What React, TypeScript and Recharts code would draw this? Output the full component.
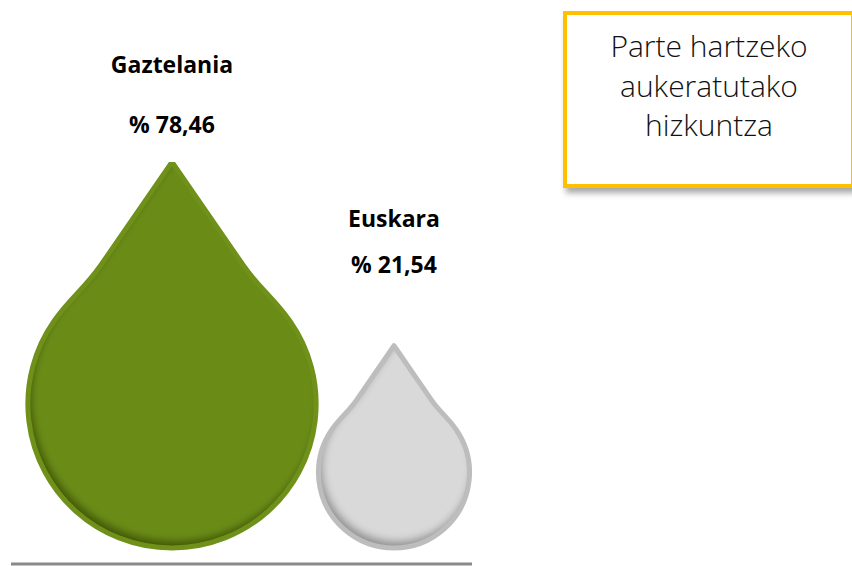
import React from "react";
import { BarChart, Bar, XAxis, YAxis, LabelList } from "recharts";

const CATEGORIES = ["Gaztelania", "Euskara"];
const PERCENTAGES = [78.46, 21.54];
const TITLE_LINES = ["Parte hartzeko", "aukeratutako", "hizkuntza"];

const data = CATEGORIES.map((name, i) => ({ name, value: PERCENTAGES[i] }));

// droplet area ~ value, so the height follows a sqrt scale
const Y_MIN = -0.135;

const DROP_STYLES = [
  { fill: "#6B8C15", ring: "#6F9119", shadow: "#3E5307" },
  { fill: "#D9D9D9", ring: "#BDBDBD", shadow: "#8E8E8E" },
];

// distance from the droplet tip up to the label baselines
const LABEL_GAPS = [
  { name: 89, value: 29 },
  { name: 119, value: 73 },
];

const formatPct = (v: number) => `% ${v.toFixed(2).replace(".", ",")}`;

// tip sits 1.678 r above the circle centre; straight flank, then a soft shoulder
function dropPath(cx: number, top: number, bottom: number) {
  const h = bottom - top;
  const r = h / 2.678;
  const cy = bottom - r;
  const dir = { x: 0.573, y: 0.819 };
  const qy = 0.72 * r;
  const qx = 0.69 * qy;
  const a = (55 * Math.PI) / 180;
  const px = r * Math.sin(a);
  const py = cy - r * Math.cos(a);
  const hl = 0.2 * r;
  const c1x = qx + dir.x * hl;
  const c1y = top + qy + dir.y * hl;
  const c2x = px - Math.cos(a) * hl;
  const c2y = py - Math.sin(a) * hl;
  return [
    `M ${cx} ${top}`,
    `L ${cx + qx} ${top + qy}`,
    `C ${cx + c1x} ${c1y} ${cx + c2x} ${c2y} ${cx + px} ${py}`,
    `A ${r} ${r} 0 1 1 ${cx - px} ${py}`,
    `C ${cx - c2x} ${c2y} ${cx - c1x} ${c1y} ${cx - qx} ${top + qy}`,
    "Z",
  ].join(" ");
}

function Drop(props: any) {
  const { x, y, width, height, index } = props;
  if (!height || height <= 0) return null;
  const cx = x + width / 2;
  const d = dropPath(cx, y, y + height);
  const st = DROP_STYLES[index % DROP_STYLES.length];
  const clipId = `drop-clip-${index}`;
  const blurId = `drop-blur-${index}`;
  return (
    <g>
      <defs>
        <clipPath id={clipId}>
          <path d={d} />
        </clipPath>
        <filter id={blurId} x="-20%" y="-20%" width="140%" height="140%">
          <feGaussianBlur stdDeviation={4} />
        </filter>
      </defs>
      <g clipPath={`url(#${clipId})`}>
        <path d={d} fill={st.shadow} />
        <path d={d} fill={st.fill} transform="translate(3,-6)" filter={`url(#${blurId})`} />
      </g>
      <path d={d} fill="none" stroke={st.ring} strokeWidth={5} strokeLinejoin="round" />
    </g>
  );
}

function DropLabel(props: any) {
  const vb = props.viewBox ?? props;
  const { index, value } = props;
  const cx = vb.x + vb.width / 2;
  const gap = LABEL_GAPS[index] ?? LABEL_GAPS[0];
  const style = { fontFamily: "'Open Sans'", fontWeight: 700, fontSize: 23, fill: "#000" };
  return (
    <g>
      <text x={cx} y={vb.y - gap.name} textAnchor="middle" {...style}>
        {CATEGORIES[index]}
      </text>
      <text x={cx} y={vb.y - gap.value} textAnchor="middle" {...style}>
        {formatPct(Number(value))}
      </text>
    </g>
  );
}

export default function App() {
  return (
    <div
      style={{
        position: "absolute",
        left: 0,
        top: 0,
        width: 852,
        height: 566,
        overflow: "hidden",
        background: "#fff",
        fontFamily: "'Open Sans', sans-serif",
      }}
    >
      <BarChart
        width={852}
        height={566}
        data={data}
        margin={{ top: 162, right: 380, bottom: 0, left: 11 }}
      >
        <XAxis
          dataKey="name"
          type="category"
          scale="point"
          padding={{ left: 161, right: 78 }}
          tick={false}
          tickLine={false}
          axisLine={{ stroke: "#8A8A8A", strokeWidth: 3 }}
          height={2}
        />
        <YAxis
          hide
          type="number"
          scale="sqrt"
          domain={[Y_MIN, Math.max(...PERCENTAGES)]}
          allowDataOverflow
        />
        <Bar dataKey="value" barSize={200} shape={<Drop />} isAnimationActive={false}>
          <LabelList dataKey="value" content={<DropLabel />} />
        </Bar>
      </BarChart>
      <div
        style={{
          position: "absolute",
          left: 563,
          top: 11,
          width: 292,
          height: 177,
          boxSizing: "border-box",
          border: "4px solid #FFC000",
          background: "#fff",
          boxShadow: "3px 5px 6px rgba(0,0,0,0.35)",
          paddingTop: 11,
          textAlign: "center",
          fontSize: 30,
          fontWeight: 300,
          lineHeight: "39.5px",
          color: "#111",
        }}
      >
        {TITLE_LINES.map((l) => (
          <div key={l}>{l}</div>
        ))}
      </div>
    </div>
  );
}
